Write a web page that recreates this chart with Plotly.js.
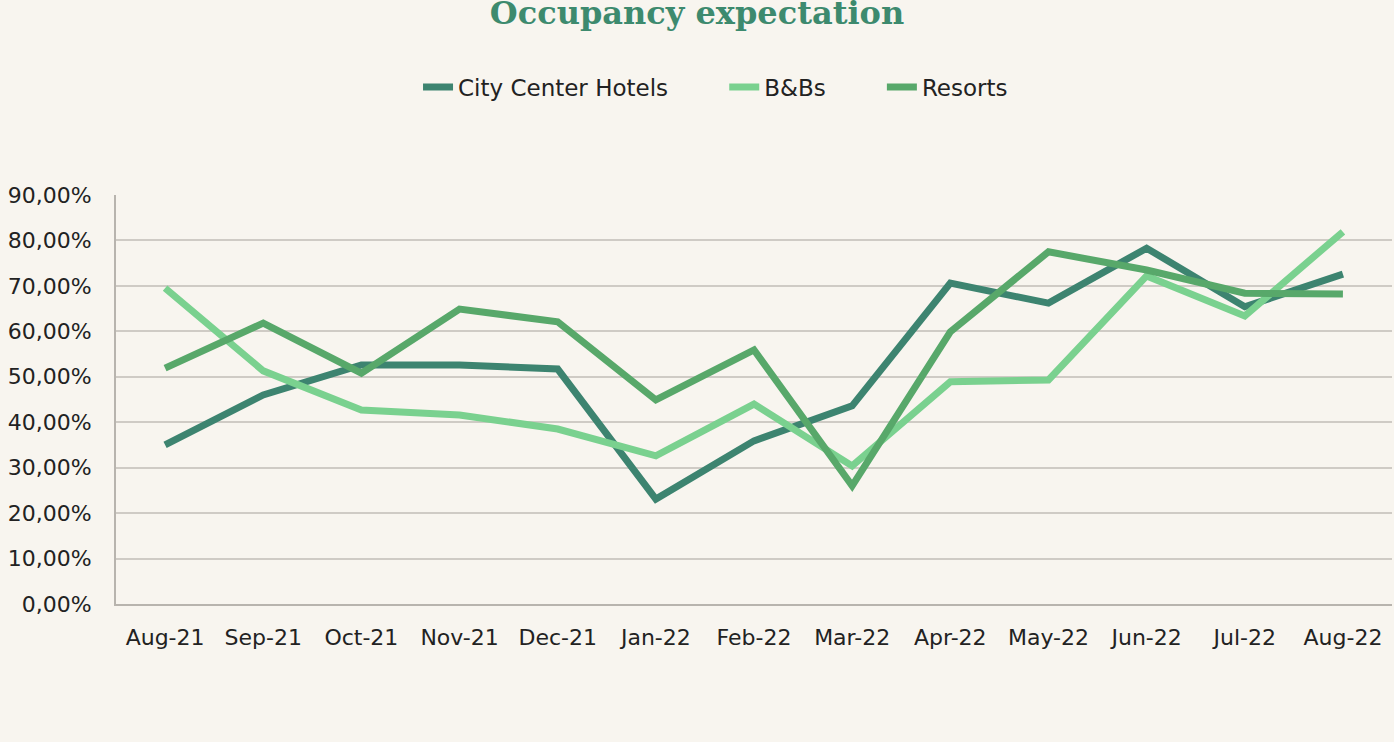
<!DOCTYPE html>
<html>
<head>
<meta charset="utf-8">
<script src="https://cdn.plot.ly/plotly-3.0.1.min.js"></script>
<style>html,body{margin:0;padding:0;background:#f8f5ef;}#chart{width:1394px;height:742px;}</style>
</head>
<body>
<div id="chart"></div>
<script>
const months = ["Aug-21","Sep-21","Oct-21","Nov-21","Dec-21","Jan-22","Feb-22","Mar-22","Apr-22","May-22","Jun-22","Jul-22","Aug-22"];
const cityCenter = [35.0,46.0,52.6,52.6,51.7,23.1,35.9,43.6,70.6,66.2,78.3,65.4,72.6];
const bnbs = [69.5,51.3,42.7,41.6,38.5,32.6,44.0,30.4,48.9,49.3,72.2,63.4,81.9];
const resorts = [51.9,61.8,50.8,64.9,62.1,44.9,55.9,26.0,59.9,77.5,73.5,68.4,68.2];
const yTicks = [0,10,20,30,40,50,60,70,80,90];
const yTickText = yTicks.map(v => v.toFixed(2).replace('.', ',') + '%');
const seriesNames = ['City Center Hotels', 'B&Bs', 'Resorts'];

const pad = '\u00a0'.repeat(7);
const mk = (name, y, color, p) => ({
  type:'scatter', mode:'lines', name:name + p, x:months, y:y,
  line:{color:color, width:7}
});
const data = [
  mk(seriesNames[0], cityCenter, '#3d8470', pad),
  mk(seriesNames[1], bnbs, '#7ad18f', pad),
  mk(seriesNames[2], resorts, '#58a86a', '')
];
const layout = {
  width:1394, height:742,
  paper_bgcolor:'#f8f5ef', plot_bgcolor:'#f8f5ef',
  margin:{l:116, r:2, t:195, b:138},
  font:{family:'DejaVu Sans, sans-serif', size:22, color:'#222'},
  title:{text:'<b>Occupancy expectation</b>', x:0.5, xanchor:'center', y:0.983, yanchor:'middle',
    font:{family:'DejaVu Serif, serif', size:32, color:'#3d8a6e'}},
  showlegend:true,
  legend:{orientation:'h', x:0.2367, xanchor:'left', y:1.264, yanchor:'middle',
    font:{size:23, color:'#222'}, itemwidth:30, bgcolor:'rgba(0,0,0,0)'},
  xaxis:{type:'category', range:[-0.5,12.5], showgrid:false, showline:true, linecolor:'#b8b4ae', linewidth:2,
    ticks:'outside', ticklen:13, tickcolor:'rgba(0,0,0,0)', tickfont:{size:22}, fixedrange:true},
  yaxis:{range:[0,90], tickmode:'array', tickvals:yTicks, ticktext:yTickText, showgrid:true, gridcolor:'#cfcbc5', gridwidth:2,
    showline:true, linecolor:'#b8b4ae', linewidth:2, zeroline:false,
    ticks:'outside', ticklen:18, tickcolor:'rgba(0,0,0,0)', tickfont:{size:22}, fixedrange:true}
};
Plotly.newPlot('chart', data, layout, {displayModeBar:false, staticPlot:true});
</script>
</body>
</html>
